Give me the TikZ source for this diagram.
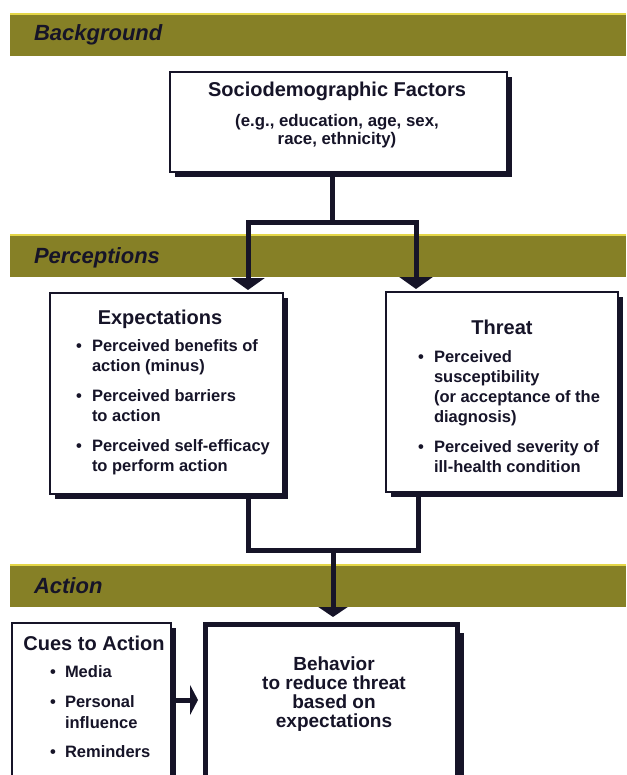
\documentclass[tikz,border=0pt]{standalone}
\usepackage{fontspec}
\setmainfont{Liberation Sans}
\usetikzlibrary{shadows,arrows.meta}
\definecolor{ink}{RGB}{22,20,40}
\definecolor{olive}{RGB}{134,128,38}
\definecolor{bandedge}{RGB}{228,214,72}
\begin{document}
\begin{tikzpicture}[x=1pt,y=-1pt,
  every node/.style={inner sep=0pt,outer sep=0pt,text=ink},
  box/.style={draw=ink,line width=2pt,fill=white,rectangle,
    drop shadow={shadow xshift=5pt,shadow yshift=-5pt,fill=ink,opacity=1}},
  bigbox/.style={draw=ink,line width=5pt,fill=white,rectangle,
    drop shadow={shadow xshift=6pt,shadow yshift=-8pt,fill=ink,opacity=1}},
  band/.style={fill=olive,draw=none,rectangle},
  bandlabel/.style={font=\bfseries\itshape\fontsize{22}{24}\selectfont,anchor=base west},
  ttl/.style={font=\bfseries\fontsize{20}{22}\selectfont,anchor=base},
  itm/.style={font=\bfseries\fontsize{16.5}{20}\selectfont,align=left,anchor=base west},
  bul/.style={font=\bfseries\fontsize{16.5}{20}\selectfont,anchor=base},
  wire/.style={draw=ink,line width=5pt},
  bigtip/.style={-{Triangle[width=33pt,length=12pt]}},
  midtip/.style={-{Triangle[width=29pt,length=10pt]}},
  sidetip/.style={-{Triangle[width=30pt,length=8pt]}}
]
\useasboundingbox (0,0) rectangle (626,775);
\clip (0,0) rectangle (626,775);
\fill[white] (0,0) rectangle (626,775);

% bands
\node[band,minimum width=616,minimum height=42,anchor=north west] (b1) at (10,14) {};
\node[band,minimum width=616,minimum height=42,anchor=north west] (b2) at (10,235) {};
\node[band,minimum width=616,minimum height=42,anchor=north west] (b3) at (10,565) {};
\draw[bandedge,line width=1.5pt] (b1.north west) -- (b1.north east);
\draw[bandedge,line width=1.5pt] (b2.north west) -- (b2.north east);
\draw[bandedge,line width=1.5pt] (b3.north west) -- (b3.north east);
\node[bandlabel] (l1) at (34,41) {Background};
\node[bandlabel] (l2) at (34,263) {Perceptions};
\node[bandlabel] (l3) at (34,593) {Action};

% boxes
\node[box,minimum width=337,minimum height=100] (socio) at (338.5,122) {};
\node[box,minimum width=233,minimum height=201] (exp) at (166.5,393.5) {};
\node[box,minimum width=232,minimum height=200] (thr) at (502,392) {};
\node[box,minimum width=159,minimum height=180] (cues) at (91.5,713) {};
\node[bigbox,minimum width=252,minimum height=180] (beh) at (331.5,714.5) {};

% sociodemographic text (multi-line nodes: base = last line)
\node[ttl] (s1) at (337,97) {Sociodemographic Factors};
\node[font=\bfseries\fontsize{16.8}{18}\selectfont,align=center,anchor=base] (s2) at (337,145) {(e.g., education, age, sex,\\race, ethnicity)};

% expectations
\node[ttl] (et) at (160,324) {Expectations};
\node[bul] (eb1) at (79,351) {•};
\node[itm] (e1) at (92,371) {Perceived benefits of\\action (minus)};
\node[bul] (eb2) at (79,401) {•};
\node[itm] (e2) at (92,421) {Perceived barriers\\to action};
\node[bul] (eb3) at (79,451) {•};
\node[itm] (e3) at (92,471) {Perceived self-efficacy\\to perform action};

% threat
\node[ttl] (tt) at (502,334) {Threat};
\node[bul] (tb1) at (421,362) {•};
\node[itm] (t1) at (434,422) {Perceived\\susceptibility\\(or acceptance of the\\diagnosis)};
\node[bul] (tb2) at (421,452) {•};
\node[itm] (t2) at (434,472) {Perceived severity of\\ill-health condition};

% cues
\node[ttl] (ct) at (94,650) {Cues to Action};
\node[bul] (cb1) at (53,677) {•};
\node[itm] (c1) at (65,677) {Media};
\node[bul] (cb2) at (53,707) {•};
\node[itm,font=\bfseries\fontsize{16.5}{21}\selectfont] (c2) at (65,728) {Personal\\influence};
\node[bul] (cb3) at (53,757) {•};
\node[itm] (c3) at (65,757) {Reminders};

% behavior
\node[font=\bfseries\fontsize{19}{19}\selectfont,align=center,anchor=base] (bt) at (334,727) {Behavior\\to reduce threat\\based on\\expectations};

% connectors
\coordinate (j0) at (332,223);
\coordinate (jl) at (248,223);
\coordinate (jr) at (416,223);
\draw[wire] (socio.south -| j0) -- (j0);
\draw[wire,line cap=rect] (jl) -- (jr);
\draw[wire,bigtip,shorten >=3pt] (jl) -- (jl |- exp.north);
\draw[wire,bigtip,shorten >=3pt] (jr) -- (jr |- thr.north);

\coordinate (kl) at (248,550);
\coordinate (kr) at (418,550);
\coordinate (k0) at (333,550);
\draw[wire] (exp.south -| kl) -- (kl);
\draw[wire] (thr.south -| kr) -- (kr);
\draw[wire,line cap=rect] (kl) -- (kr);
\draw[wire,midtip,shorten >=7.5pt] (k0) -- (k0 |- beh.north);

\coordinate (ca) at (176,700);
\draw[wire,sidetip,shorten >=7.5pt] (ca) -- (ca -| beh.west);
\end{tikzpicture}
\end{document}
